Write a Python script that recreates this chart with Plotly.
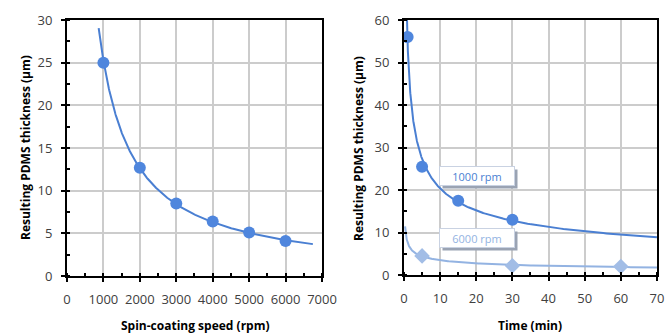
import numpy as np
import plotly.graph_objects as go

# ---- data ----
speed_rpm = [1000, 2000, 3000, 4000, 5000, 6000]
thick_speed = [25.0, 12.7, 8.5, 6.4, 5.1, 4.1]

time_1000 = [1, 5, 15, 30]
thick_1000 = [56.0, 25.5, 17.5, 13.0]

time_6000 = [5, 30, 60]
thick_6000 = [4.5, 2.2, 2.0]

label_1000 = "1000 rpm"
label_6000 = "6000 rpm"

# trendline extents (forecast range of the power-law fit)
fit_range_speed = (870, 6750)
fit_range_1000 = (0.6, 70)
fit_range_6000 = (0.3, 70)


def power_fit(x, y, xr, n=300):
    b, a = np.polyfit(np.log(x), np.log(y), 1)
    xs = np.geomspace(xr[0], xr[1], n)
    return xs, np.exp(a) * xs ** b


C1 = "#4a7fd2"
C1M = "#4f86dd"
C2 = "#93b3e2"
C2M = "#a2bde6"

fig = go.Figure()

xs, ys = power_fit(speed_rpm, thick_speed, fit_range_speed)
fig.add_trace(go.Scatter(x=xs, y=ys, mode="lines", line=dict(color=C1, width=2),
                         xaxis="x", yaxis="y", hoverinfo="skip"))
fig.add_trace(go.Scatter(x=speed_rpm, y=thick_speed, mode="markers",
                         marker=dict(color=C1M, size=12), xaxis="x", yaxis="y"))

xs, ys = power_fit(time_1000, thick_1000, fit_range_1000)
fig.add_trace(go.Scatter(x=xs, y=ys, mode="lines", line=dict(color=C1, width=2),
                         xaxis="x2", yaxis="y2", hoverinfo="skip"))
fig.add_trace(go.Scatter(x=time_1000, y=thick_1000, mode="markers",
                         marker=dict(color=C1M, size=12), xaxis="x2", yaxis="y2"))

xs, ys = power_fit(time_6000, thick_6000, fit_range_6000)
fig.add_trace(go.Scatter(x=xs, y=ys, mode="lines", line=dict(color=C2, width=2),
                         xaxis="x2", yaxis="y2", hoverinfo="skip"))
fig.add_trace(go.Scatter(x=time_6000, y=thick_6000, mode="markers",
                         marker=dict(color=C2M, size=12, symbol="diamond"),
                         xaxis="x2", yaxis="y2"))

FONT = "Open Sans, Lato, Liberation Sans, sans-serif"
tickfont = dict(family=FONT, size=13, color="#404040")
axis_common = dict(
    showline=True, linecolor="black", linewidth=2, mirror=True,
    showgrid=True, gridcolor="#cccccc", gridwidth=2,
    ticks="outside", ticklen=4, tickwidth=1.5, tickcolor="black",
    tickfont=tickfont, zeroline=False, fixedrange=True, automargin=False,
)

fig.update_layout(
    width=669, height=335, margin=dict(l=0, r=0, t=0, b=0, autoexpand=False),
    paper_bgcolor="white", plot_bgcolor="white", showlegend=False,
    xaxis=dict(domain=[0.1001, 0.4813], range=[0, 7000], dtick=1000, anchor="y",
               minor=dict(ticks="inside", ticklen=3, dtick=500, tickcolor="black", showgrid=False),
               ticklabelstandoff=6, **axis_common),
    yaxis=dict(domain=[0.176, 0.940], range=[0, 30], dtick=5, anchor="x",
               minor=dict(ticks="inside", ticklen=3, dtick=2.5, tickcolor="black", showgrid=False),
               ticklabelstandoff=6, **axis_common),
    xaxis2=dict(domain=[0.6039, 0.982], range=[0, 70], dtick=10, anchor="y2",
                minor=dict(ticks="inside", ticklen=3, dtick=5, tickcolor="black", showgrid=False),
                ticklabelstandoff=6, **axis_common),
    yaxis2=dict(domain=[0.179, 0.940], range=[0, 60], dtick=10, anchor="x2",
                minor=dict(ticks="inside", ticklen=3, dtick=5, tickcolor="black", showgrid=False),
                ticklabelstandoff=6, **axis_common),
)

titlefont = dict(family=FONT, size=12, color="black", weight="bold")
ann = [
    dict(text="Resulting PDMS thickness (µm)", x=25 / 669, y=1 - 148 / 335, textangle=-90),
    dict(text="Resulting PDMS thickness (µm)", x=358 / 669, y=1 - 148 / 335, textangle=-90),
    dict(text="Spin-coating speed (rpm)", x=195 / 669, y=1 - 325 / 335),
    dict(text="Time (min)", x=530 / 669, y=1 - 325 / 335),
]
for a in ann:
    fig.add_annotation(xref="paper", yref="paper", showarrow=False, font=titlefont,
                       xanchor="center", yanchor="middle", **a)

boxfont = dict(family=FONT, size=11)
for txt, yv, col in [(label_1000, 23.4, C1), (label_6000, 8.6, C2)]:
    # shadow box
    fig.add_annotation(xref="x2", yref="y2", x=20.2, y=yv, text=" ", showarrow=False,
                       font=dict(color="rgba(0,0,0,0)", **boxfont), width=72, height=16,
                       bgcolor="#9aa3b3", xshift=3, yshift=-3)
    fig.add_annotation(xref="x2", yref="y2", x=20.2, y=yv, text=txt, showarrow=False,
                       font=dict(color=col, **boxfont), width=72, height=16,
                       bgcolor="white", bordercolor="#c9d2e2", borderwidth=1)

fig.write_html("out.html")
